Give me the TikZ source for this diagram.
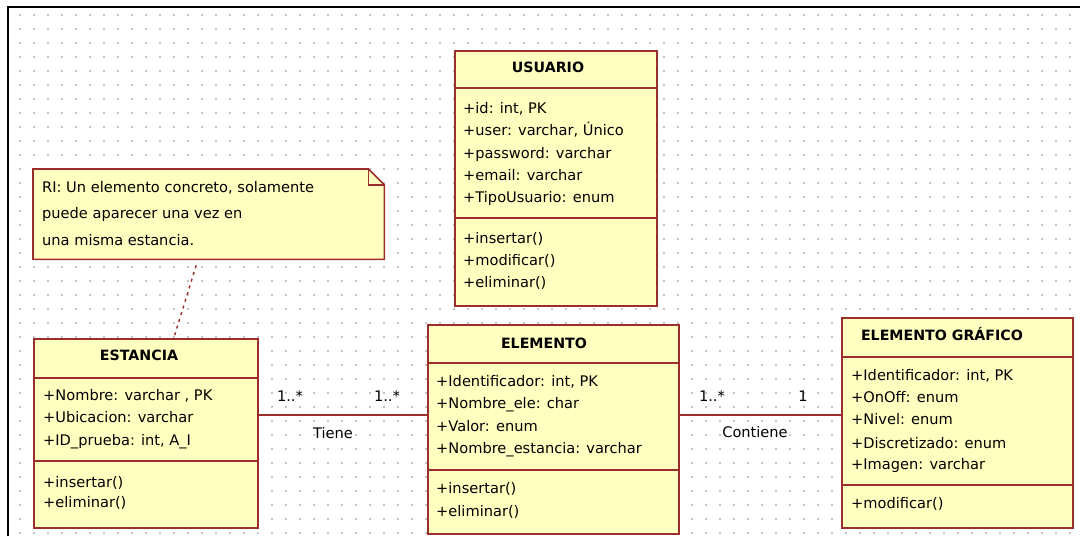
\documentclass[tikz,border=0pt]{standalone}
\usepackage{fontspec}
\setmainfont{DejaVu Sans}
\definecolor{umlfill}{RGB}{255,255,192}
\definecolor{umledge}{RGB}{155,45,45}
\definecolor{griddot}{RGB}{195,195,195}
\tikzset{
  classbox/.style={draw=umledge, fill=umlfill, line width=1.6pt, anchor=north west, inner sep=0pt},
  sep/.style={draw=umledge, line width=1.4pt},
  title/.style={font=\bfseries\fontsize{14.2}{16}\selectfont, anchor=mid, inner sep=0pt, yshift=-3pt},
  attr/.style={font=\fontsize{14.6}{17}\selectfont, anchor=mid west, inner sep=0pt, yshift=-3pt},
  mult/.style={font=\fontsize{14.6}{17}\selectfont, anchor=mid, inner sep=0pt, yshift=-3pt},
  assoc/.style={draw=umledge, line width=1.4pt},
  notelink/.style={draw=umledge, line width=1.4pt, dash pattern=on 3pt off 4pt}
}
\begin{document}
\begin{tikzpicture}[x=1pt, y=-1pt]
\useasboundingbox (0,0) rectangle (1080,536);

\foreach \gx in {20,34,...,1076}
  \foreach \gy in {15,29,...,533}
    \fill[griddot] (\gx-0.6,\gy-0.6) rectangle +(1.2,1.2);
\draw[line width=2pt] (8,536) -- (8,7) -- (1080,7);

% nota
\node[anchor=north west, inner sep=0pt, minimum width=351pt, minimum height=90pt] (nota) at (33,169) {};
\fill[umlfill] (nota.north west) -- ([xshift=-16pt]nota.north east) -- ([yshift=-16pt]nota.north east) -- (nota.south east) -- (nota.south west) -- cycle;
\draw[umledge, line width=1.6pt] (nota.north west) -- ([xshift=-16pt]nota.north east) -- ([yshift=-16pt]nota.north east) -- (nota.south east) -- (nota.south west) -- cycle;
\draw[umledge, line width=1.2pt] ([xshift=-16pt]nota.north east) -- ([xshift=-16pt, yshift=-16pt]nota.north east) -- ([yshift=-16pt]nota.north east);
\node[attr] (ri1) at (42,187) {RI: Un elemento concreto, solamente};
\node[attr] (ri2) at (42,213) {puede aparecer una vez en};
\node[attr] (ri3) at (42,240) {una misma estancia.};

% USUARIO
\node[classbox, minimum width=202pt, minimum height=255pt] (usuario) at (454,50) {};
\draw[sep] (usuario.west |- 0,88) -- (usuario.east |- 0,88);
\draw[sep] (usuario.west |- 0,218) -- (usuario.east |- 0,218);
\node[title] (usuarioT) at (548,67) {USUARIO};
\node[attr] at (463,108) {+id: int, PK};
\node[attr] at (463,130) {+user: varchar, Único};
\node[attr] at (463,153) {+password: varchar};
\node[attr] at (463,175) {+email: varchar};
\node[attr] at (463,197) {+TipoUsuario: enum};
\node[attr] at (463,238) {+insertar()};
\node[attr] at (463,260) {+modificar()};
\node[attr] at (463,282) {+eliminar()};

% ESTANCIA
\node[classbox, minimum width=224pt, minimum height=189pt] (estancia) at (33,338) {};
\draw[sep] (estancia.west |- 0,378) -- (estancia.east |- 0,378);
\draw[sep] (estancia.west |- 0,461) -- (estancia.east |- 0,461);
\node[title] (estanciaT) at (139,355) {ESTANCIA};
\node[attr] at (43,395) {+Nombre: varchar , PK};
\node[attr] at (43,417) {+Ubicacion: varchar};
\node[attr] at (43,440) {+ID\_prueba: int, A\_I};
\node[attr] at (43,482) {+insertar()};
\node[attr] at (43,502) {+eliminar()};

% ELEMENTO
\node[classbox, minimum width=251pt, minimum height=209pt] (elemento) at (427,324) {};
\draw[sep] (elemento.west |- 0,363) -- (elemento.east |- 0,363);
\draw[sep] (elemento.west |- 0,470) -- (elemento.east |- 0,470);
\node[title] (elementoT) at (544,343) {ELEMENTO};
\node[attr] at (436,381) {+Identificador: int, PK};
\node[attr] at (436,403) {+Nombre\_ele: char};
\node[attr] at (436,426) {+Valor: enum};
\node[attr] at (436,448) {+Nombre\_estancia: varchar};
\node[attr] at (436,488) {+insertar()};
\node[attr] at (436,511) {+eliminar()};

% ELEMENTO GRAFICO
\node[classbox, minimum width=231pt, minimum height=210pt] (grafico) at (841,317) {};
\draw[sep] (grafico.west |- 0,357) -- (grafico.east |- 0,357);
\draw[sep] (grafico.west |- 0,485) -- (grafico.east |- 0,485);
\node[title] (graficoT) at (942,335) {ELEMENTO GRÁFICO};
\node[attr] at (851,375) {+Identificador: int, PK};
\node[attr] at (851,397) {+OnOff: enum};
\node[attr] at (851,419) {+Nivel: enum};
\node[attr] at (851,443) {+Discretizado: enum};
\node[attr] at (851,464) {+Imagen: varchar};
\node[attr] at (851,503) {+modificar()};

% asociaciones
\coordinate (assocY) at (0,415);
\draw[assoc] (estancia.east |- assocY) -- (elemento.west |- assocY);
\draw[assoc] (elemento.east |- assocY) -- (grafico.west |- assocY);
\node[mult] (m1) at (290,396) {1..*};
\node[mult] (m2) at (387,396) {1..*};
\node[mult] (tiene) at (333,433) {Tiene};
\node[mult] (m3) at (712,396) {1..*};
\node[mult] (m4) at (803,396) {1};
\node[mult] (contiene) at (755,432) {Contiene};

\draw[notelink] ([shift={(-12.5,6)}]nota.south) -- ([xshift=28pt]estancia.north);

\end{tikzpicture}
\end{document}
